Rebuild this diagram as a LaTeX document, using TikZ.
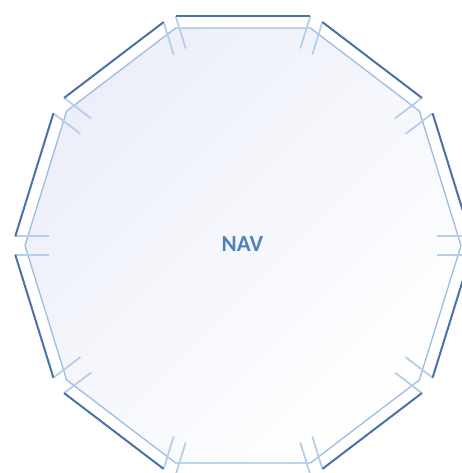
\documentclass[tikz,border=0pt]{standalone}
\usepackage{fontspec}
\setmainfont{Carlito}
\usetikzlibrary{calc}
\definecolor{darkseg}{HTML}{4A72A6}
\definecolor{lightedge}{HTML}{9BBCE3}
\definecolor{tickcol}{HTML}{B6CDEB}
\definecolor{lav}{HTML}{ECEFF9}
\definecolor{lavmid}{HTML}{FCFCFE}
\definecolor{navblue}{HTML}{4F81BD}
\tikzset{
  outline/.style={draw=lightedge, line width=1.3pt, line join=miter},
  seg/.style={draw=darkseg, line width=2pt},
  tickline/.style={draw=tickcol, line width=1.8pt},
  label/.style={font=\bfseries\fontsize{23}{26}\selectfont, text=navblue, inner sep=0pt}
}
\begin{document}
\begin{tikzpicture}[x=1pt,y=-1pt]
\useasboundingbox (0,0) rectangle (462,473);
\clip (0,0) rectangle (462,473);
% vertices
\coordinate (V0) at (461,245.5);
\coordinate (V1) at (419.4,111.1);
\coordinate (V2) at (310.4,28.0);
\coordinate (V3) at (175.6,28.0);
\coordinate (V4) at (66.6,111.1);
\coordinate (V5) at (25,245.5);
\coordinate (V6) at (66.6,379.9);
\coordinate (V7) at (175.6,463.0);
\coordinate (V8) at (310.4,463.0);
\coordinate (V9) at (419.4,379.9);
% filled decagon
\shade[top color=lav, middle color=lavmid, bottom color=white, shading angle=45]
  (V0) -- (V1) -- (V2) -- (V3) -- (V4) -- (V5) -- (V6) -- (V7) -- (V8) -- (V9) -- cycle;
\draw[outline] (V0) -- (V1) -- (V2) -- (V3) -- (V4) -- (V5) -- (V6) -- (V7) -- (V8) -- (V9) -- cycle;
% segment end points (S = start, E = end)
\coordinate (AS) at (470.7,236.2); \coordinate (AE) at (432.6,113.3);
\coordinate (BS) at (421.9,97.9);  \coordinate (BE) at (322.4,22.1);
\coordinate (CS) at (310.4,16);    \coordinate (CE) at (175.6,16);
\coordinate (DS) at (163.6,22.1);  \coordinate (DE) at (64.1,97.9);
\coordinate (ES) at (53.4,113.3);  \coordinate (EE) at (15.3,236.2);
\coordinate (FS) at (15.3,254.8);  \coordinate (FE) at (53.4,377.7);
\coordinate (GS) at (64.1,393.1);  \coordinate (GE) at (163.6,468.9);
\coordinate (HS) at (175.6,475);   \coordinate (HE) at (310.4,475);
\coordinate (IS) at (322.4,468.9); \coordinate (IE) at (421.9,393.1);
\coordinate (JS) at (432.6,377.7); \coordinate (JE) at (470.7,254.8);
% tick ends
\coordinate (tAS) at (436.7,236.2); \coordinate (tAE) at (405.6,133.9);
\coordinate (tBS) at (394.9,118.5); \coordinate (tBE) at (312.3,54.6);
\coordinate (tCS) at (300.3,48.5);  \coordinate (tCE) at (185.7,48.5);
\coordinate (tDS) at (173.7,54.6);  \coordinate (tDE) at (91.1,118.5);
\coordinate (tES) at (80.4,133.9);  \coordinate (tEE) at (49.3,236.2);
\coordinate (tFS) at (49.3,254.8);  \coordinate (tFE) at (80.4,357.1);
\coordinate (tGS) at (91.1,372.5);  \coordinate (tGE) at (173.7,436.4);
\coordinate (tHS) at (185.7,442.5); \coordinate (tHE) at (300.3,442.5);
\coordinate (tIS) at (312.3,436.4); \coordinate (tIE) at (394.9,372.5);
\coordinate (tJS) at (405.6,357.1); \coordinate (tJE) at (436.7,254.8);
% ticks
\foreach \s in {A,B,C,D,E,F,G,H,I,J}{
  \draw[tickline] (\s S) -- (t\s S);
  \draw[tickline] (\s E) -- (t\s E);
}
% dark segments
\foreach \s in {A,B,C,D,E,F,G,H,I,J}{
  \draw[seg] (\s S) -- (\s E);
}
\node[label] (nav) at (242.5,244.5) {NAV};
\end{tikzpicture}
\end{document}
